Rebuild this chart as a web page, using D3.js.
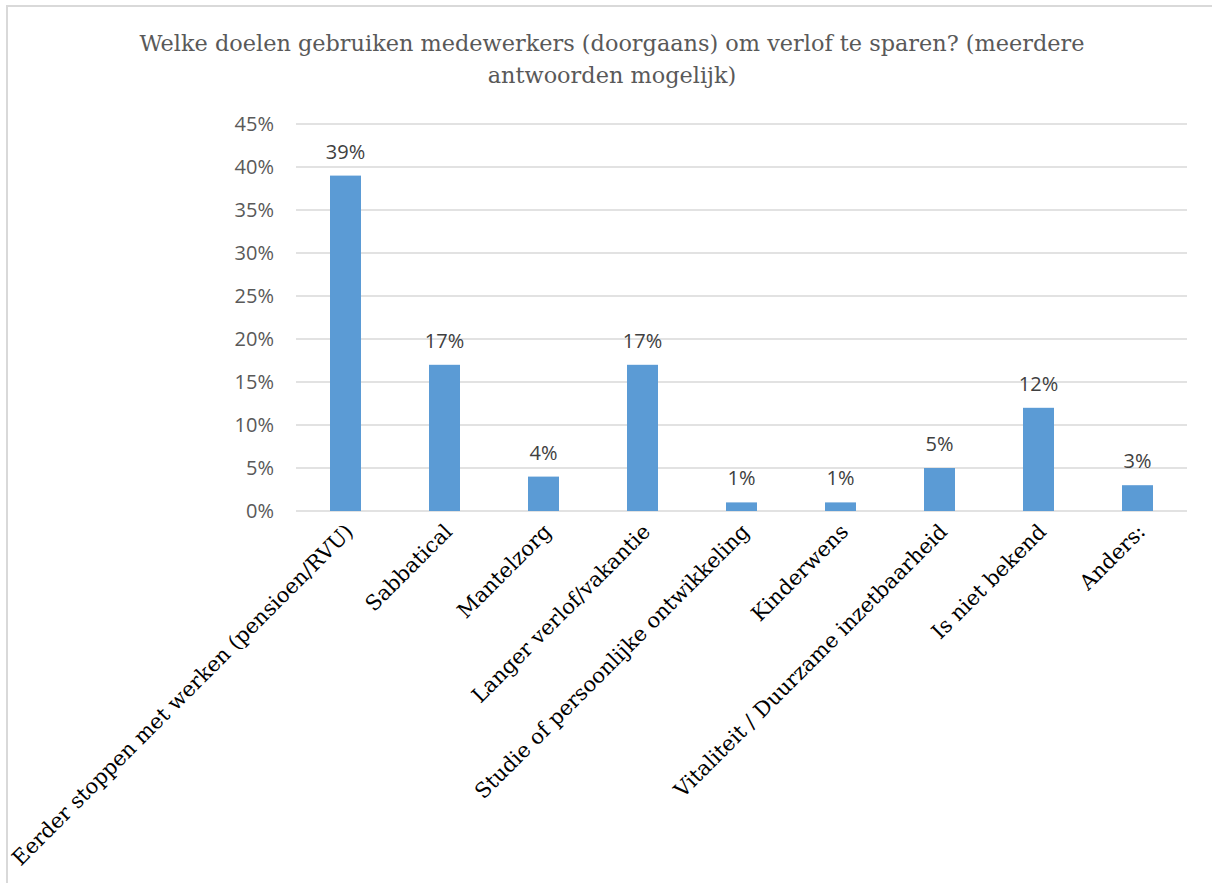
<!DOCTYPE html>
<html>
<head>
<meta charset="utf-8">
<script src="https://cdn.jsdelivr.net/npm/d3@7"></script>
<style>
  body { margin: 0; background: #fff; }
</style>
</head>
<body>
<svg width="1212" height="883"></svg>
<script>
var categories = [
    "Eerder stoppen met werken (pensioen/RVU)",
    "Sabbatical",
    "Mantelzorg",
    "Langer verlof/vakantie",
    "Studie of persoonlijke ontwikkeling",
    "Kinderwens",
    "Vitaliteit / Duurzame inzetbaarheid",
    "Is niet bekend",
    "Anders:"
];
var values = [39, 17, 4, 17, 1, 1, 5, 12, 3];
var yTicks = [0, 5, 10, 15, 20, 25, 30, 35, 40, 45];
var titleLines = [
    "Welke doelen gebruiken medewerkers (doorgaans) om verlof te sparen? (meerdere",
    "antwoorden mogelijk)"
];

var svg = d3.select("svg");

// chart border (top + left visible)
svg.append("rect")
    .attr("x", 7).attr("y", 6)
    .attr("width", 1220).attr("height", 900)
    .attr("fill", "none")
    .attr("stroke", "#d9d9d9")
    .attr("stroke-width", 2);

var x = d3.scaleBand()
    .domain(categories)
    .range([296, 1187])
    .paddingInner(0.687)
    .paddingOuter(0.3435);

var y = d3.scaleLinear()
    .domain([0, 45])
    .range([511, 124]);

// gridlines
svg.append("g").selectAll("line")
    .data(yTicks)
    .enter().append("line")
    .attr("x1", 296).attr("x2", 1187)
    .attr("y1", function(d) { return y(d); })
    .attr("y2", function(d) { return y(d); })
    .attr("stroke", "#d9d9d9")
    .attr("stroke-width", 1.5);

// y labels
svg.append("g").selectAll("text")
    .data(yTicks)
    .enter().append("text")
    .attr("x", 274)
    .attr("y", function(d) { return y(d); })
    .attr("dy", "0.35em")
    .attr("text-anchor", "end")
    .attr("font-family", "'Open Sans', 'Noto Sans', sans-serif")
    .attr("font-size", 20)
    .attr("fill", "#595959")
    .text(function(d) { return d + "%"; });

// bars
svg.append("g").selectAll("rect")
    .data(values)
    .enter().append("rect")
    .attr("x", function(d, i) { return x(categories[i]); })
    .attr("y", function(d) { return y(d); })
    .attr("width", x.bandwidth())
    .attr("height", function(d) { return y(0) - y(d); })
    .attr("fill", "#5b9bd5");

// data labels
svg.append("g").selectAll("text")
    .data(values)
    .enter().append("text")
    .attr("x", function(d, i) { return x(categories[i]) + x.bandwidth() / 2; })
    .attr("y", function(d) { return y(d) - 17; })
    .attr("text-anchor", "middle")
    .attr("font-family", "'Open Sans', 'Noto Sans', sans-serif")
    .attr("font-size", 20)
    .attr("fill", "#404040")
    .text(function(d) { return d + "%"; });

// category labels
svg.append("g").selectAll("text")
    .data(categories)
    .enter().append("text")
    .attr("transform", function(d) {
        return "translate(" + (x(d) + x.bandwidth() / 2 + 9) + ",533) rotate(-45)";
    })
    .attr("text-anchor", "end")
    .attr("font-family", "'DejaVu Serif', serif")
    .attr("font-size", 21)
    .attr("fill", "#000")
    .text(function(d) { return d; });

// title
svg.append("g").selectAll("text")
    .data(titleLines)
    .enter().append("text")
    .attr("x", 612)
    .attr("y", function(d, i) { return 51 + i * 32; })
    .attr("text-anchor", "middle")
    .attr("font-family", "'DejaVu Serif', serif")
    .attr("font-size", 22.4)
    .attr("fill", "#595959")
    .text(function(d) { return d; });
</script>
</body>
</html>
